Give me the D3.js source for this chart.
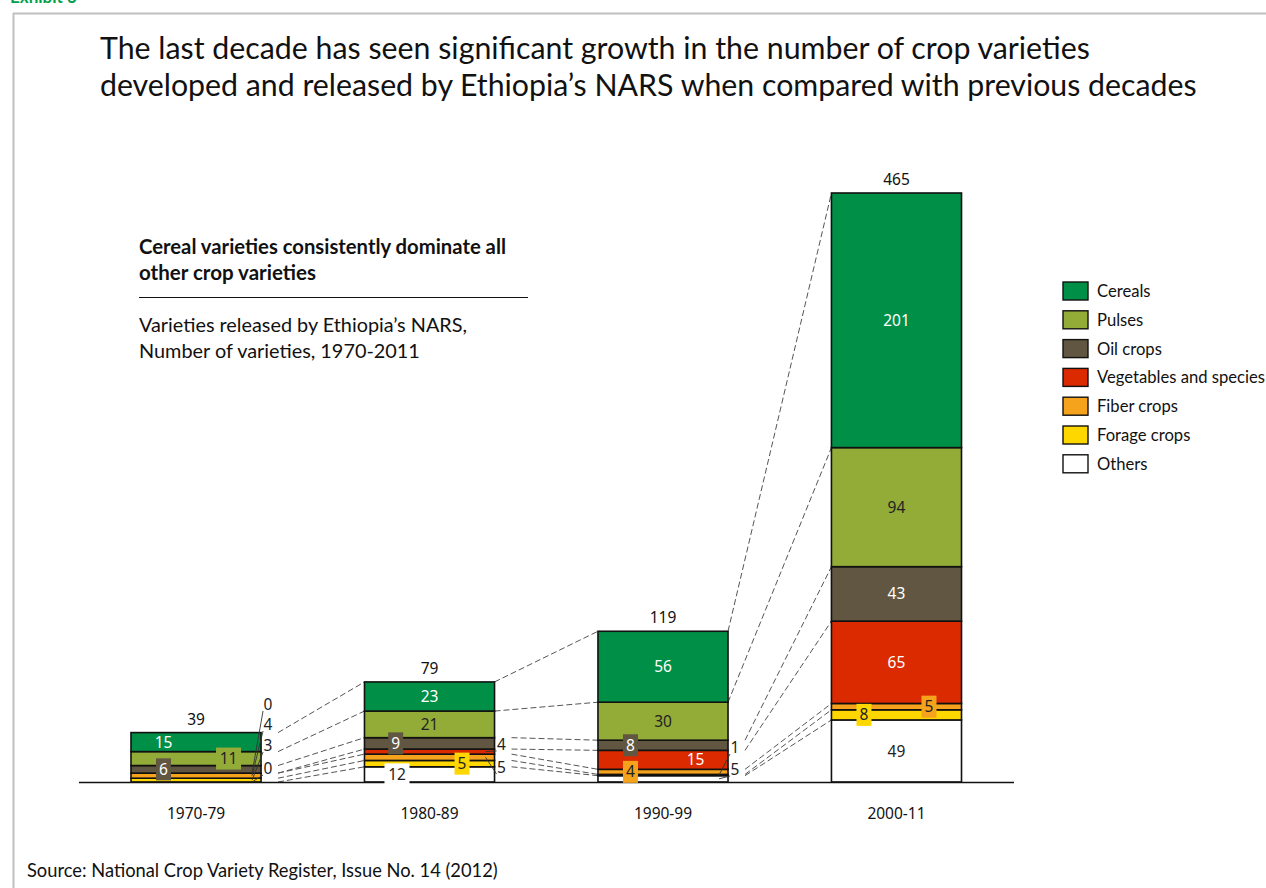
<!DOCTYPE html>
<html><head><meta charset="utf-8">
<script src="https://cdn.jsdelivr.net/npm/d3@7/dist/d3.min.js"></script>
<style>
html,body{margin:0;padding:0;background:#fff;}
svg{display:block;font-family:Lato,"Noto Sans",sans-serif;}
</style></head>
<body>
<svg id="chart" width="1266" height="888"></svg>
<script>
// ---------- DATA ----------
const decades = ["1970-79", "1980-89", "1990-99", "2000-11"];
const seriesNames = ["Cereals", "Pulses", "Oil crops", "Vegetables and species", "Fiber crops", "Forage crops", "Others"];
const cereals    = [15, 23, 56, 201];
const pulses     = [11, 21, 30, 94];
const oilCrops   = [6, 9, 8, 43];
const vegetables = [0, 4, 15, 65];
const fiber      = [4, 5, 4, 5];
const forage     = [3, 5, 1, 8];
const others     = [0, 12, 5, 49];
const totals     = [39, 79, 119, 465];
const seriesColors = ["#008F47", "#93AC38", "#615641", "#DB2A00", "#F5A21D", "#FFD700", "#FFFFFF"];

// ---------- LAYOUT (label placement only) ----------
const labelStyle = [
  [{m:"p",f:0.25,t:"#fff"},{m:"b",f:0.75,t:"#222"},{m:"b",f:0.25,t:"#fff"},{m:"o",ly:704},{m:"o",ly:724},{m:"o",ly:745},{m:"o",ly:768}],
  [{m:"c",t:"#fff"},{m:"c",t:"#222"},{m:"b",f:0.24,t:"#fff"},{m:"o",ly:744},{m:"o",ly:767},{m:"b",f:0.75,t:"#222"},{m:"b",f:0.25,t:"#222"}],
  [{m:"c",t:"#fff"},{m:"c",t:"#222"},{m:"b",f:0.25,t:"#fff"},{m:"p",f:0.75,t:"#fff"},{m:"b",f:0.25,t:"#222"},{m:"o",ly:747},{m:"o",ly:769}],
  [{m:"c",t:"#fff"},{m:"c",t:"#222"},{m:"c",t:"#fff"},{m:"c",t:"#fff"},{m:"b",f:0.75,t:"#222"},{m:"b",f:0.25,t:"#222"},{m:"c",t:"#222"}]
];
const NUMFONT = "'Noto Sans',Lato,sans-serif";

const svg = d3.select("#chart");
const valuesBySeries = [cereals, pulses, oilCrops, vegetables, fiber, forage, others];

// frame
svg.append("line").attr("x1",13).attr("y1",13.5).attr("x2",1266).attr("y2",13.5).attr("stroke","#bfbfbf").attr("stroke-width",2);
svg.append("line").attr("x1",13.5).attr("y1",13).attr("x2",13.5).attr("y2",888).attr("stroke","#bfbfbf").attr("stroke-width",2);
svg.append("text").attr("x",10).attr("y",3).attr("font-size",17).attr("font-weight","bold").attr("fill","#00A04A").text("Exhibit 3");

function fit(sel, w){
  const n = sel.node(); const cur = +sel.attr("font-size");
  const len = n.getComputedTextLength();
  sel.attr("font-size", (cur*w/len).toFixed(2));
  return sel;
}

// title
fit(svg.append("text").attr("x",100).attr("y",59).attr("font-size",26).attr("fill","#111")
  .text("The last decade has seen significant growth in the number of crop varieties"), 990);
fit(svg.append("text").attr("x",100).attr("y",96).attr("font-size",26).attr("fill","#111")
  .text("developed and released by Ethiopia\u2019s NARS when compared with previous decades"), 1097);

// annotation
fit(svg.append("text").attr("x",139).attr("y",254).attr("font-size",17).attr("font-weight","bold").attr("fill","#111")
  .text("Cereal varieties consistently dominate all"), 367);
fit(svg.append("text").attr("x",139).attr("y",280).attr("font-size",17).attr("font-weight","bold").attr("fill","#111")
  .text("other crop varieties"), 177);
svg.append("line").attr("x1",139).attr("x2",528).attr("y1",297.5).attr("y2",297.5).attr("stroke","#111").attr("stroke-width",1.2);
fit(svg.append("text").attr("x",139).attr("y",332).attr("font-size",17).attr("fill","#111")
  .text("Varieties released by Ethiopia\u2019s NARS,"), 328);
fit(svg.append("text").attr("x",139).attr("y",358).attr("font-size",17).attr("fill","#111")
  .text("Number of varieties, 1970-2011"), 281);

// scales
const x = d3.scaleBand().domain(decades).range([14.25, 1078.25]).paddingInner(0.443).paddingOuter(0.5);
const y = d3.scaleLinear().domain([0, 465]).range([782, 193]);

// stack (bottom: Others ... top: Cereals)
const rows = decades.map((d,i) => {
  const r = {decade:d};
  seriesNames.forEach((s,k) => r[s] = valuesBySeries[k][i]);
  return r;
});
const stackKeys = seriesNames.slice().reverse();
const stacked = d3.stack().keys(stackKeys)(rows);
const segOf = (k,i) => stacked[stackKeys.indexOf(seriesNames[k])][i];

// dashed connectors
const conn = svg.append("g").attr("fill","none").attr("stroke","#555").attr("stroke-width",1).attr("stroke-dasharray","6,3");
for (let i=0;i<decades.length-1;i++){
  const hasOut = labelStyle[i].some(s=>s.m==="o");
  seriesNames.forEach((s,k)=>{
    const a = segOf(k,i), b = segOf(k,i+1);
    const x0 = x(decades[i]) + x.bandwidth() + ((hasOut && (i===0 || k>=2)) ? 17 : 0);
    conn.append("line").attr("x1",x0).attr("y1",y(a[1])).attr("x2",x(decades[i+1])).attr("y2",y(b[1]));
  });
}

// bars
const bars = svg.append("g");
stacked.forEach(layer=>{
  const k = seriesNames.indexOf(layer.key);
  bars.selectAll(null).data(layer).join("rect")
    .attr("x",(d,i)=>x(decades[i]))
    .attr("y",d=>y(d[1]))
    .attr("width",x.bandwidth())
    .attr("height",d=>y(d[0])-y(d[1]))
    .attr("fill",seriesColors[k])
    .attr("stroke","#111").attr("stroke-width",1.6);
});

// axis baseline
svg.append("line").attr("x1",79).attr("x2",1014).attr("y1",782.5).attr("y2",782.5).attr("stroke","#111").attr("stroke-width",1.6);

// category labels
const xAxis = d3.axisBottom(x).tickSize(0).tickPadding(0);
const gx = svg.append("g").attr("transform","translate(0,808)").call(xAxis);
gx.select(".domain").remove();
gx.selectAll("text").attr("font-size",15.5).attr("fill","#111").attr("font-family",NUMFONT);

// totals
svg.selectAll(".tot").data(totals).join("text")
  .attr("x",(d,i)=>x(decades[i])+x.bandwidth()/2).attr("y",(d,i)=>y(d)-8)
  .attr("text-anchor","middle").attr("font-size",15.5).attr("font-family",NUMFONT).attr("fill","#111").text(d=>d);

// value labels
const lab = svg.append("g").attr("font-size",15.5).attr("font-family",NUMFONT);
decades.forEach((dec,i)=>{
  seriesNames.forEach((s,k)=>{
    const st = labelStyle[i][k]; const seg = segOf(k,i); const v = valuesBySeries[k][i];
    const x0 = x(dec), w = x.bandwidth();
    const midY = (y(seg[0])+y(seg[1]))/2;
    if (st.m==="c" || st.m==="p" || st.m==="b"){
      const cx = st.m==="c" ? x0+w/2 : x0+w*st.f;
      if (st.m==="b"){
        const bw = String(v).length>1 ? 25 : 15;
        lab.append("rect").attr("x",cx-bw/2).attr("y",midY-11).attr("width",bw).attr("height",22)
          .attr("fill",seriesColors[k]);
      }
      lab.append("text").attr("x",cx).attr("y",midY).attr("dy","0.36em").attr("text-anchor","middle")
        .attr("fill",st.t).text(v);
    } else {
      const lx = x0+w+7;
      lab.append("text").attr("x",lx).attr("y",st.ly).attr("dy","0.36em").attr("text-anchor","middle")
        .attr("fill","#222").text(v);
      lab.append("line").attr("x1",lx-5).attr("y1",st.ly+7).attr("x2",x0+w-9).attr("y2",midY)
        .attr("stroke","#333").attr("stroke-width",0.9);
    }
  });
});

// legend
const lg = svg.append("g").attr("transform","translate(1063,282)");
let legendSize = 15;
seriesNames.forEach((s,k)=>{
  const g = lg.append("g").attr("transform",`translate(0,${k*28.8})`);
  g.append("rect").attr("x",0).attr("y",0).attr("width",25).attr("height",18).attr("fill",seriesColors[k])
    .attr("stroke","#111").attr("stroke-width",1.4);
  g.append("text").attr("class","lgt").attr("x",34).attr("y",9).attr("dy","0.36em").attr("font-size",15).attr("fill","#111").text(s);
});
const longest = lg.selectAll(".lgt").filter(d=>false);
const vegText = lg.selectAll(".lgt").nodes()[3];
const scaleF = 168 / vegText.getComputedTextLength();
lg.selectAll(".lgt").attr("font-size", (15*scaleF).toFixed(2));

// source
fit(svg.append("text").attr("x",27).attr("y",877).attr("font-size",15).attr("fill","#111")
  .text("Source: National Crop Variety Register, Issue No. 14 (2012)"), 471);
</script>
</body></html>
